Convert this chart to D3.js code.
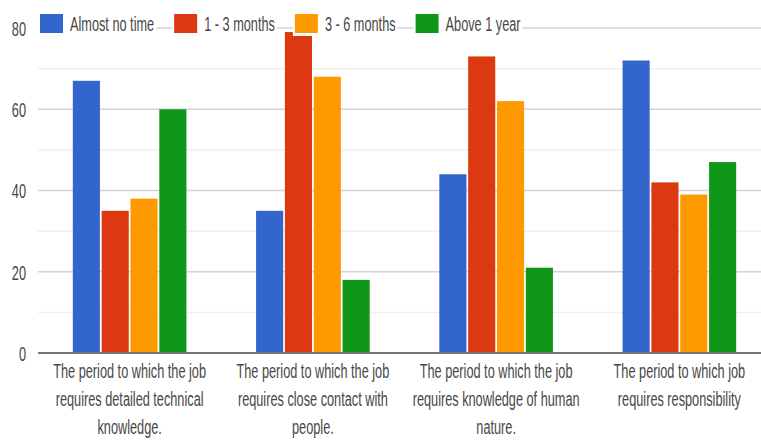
<!DOCTYPE html>
<html>
<head>
<meta charset="utf-8">
<script src="https://cdn.jsdelivr.net/npm/d3@7"></script>
<style>
  html, body { margin: 0; padding: 0; background: #fff; }
  svg { display: block; }
  text { font-family: "Liberation Sans", Arial, sans-serif; fill: #474747; }
</style>
</head>
<body>
<svg id="chart" width="761" height="442"></svg>
<script>
// Category labels, one entry per group, already broken into lines
const categories = [
  ["The period to which the job", "requires detailed technical", "knowledge."],
  ["The period to which the job", "requires close contact with", "people."],
  ["The period to which the job", "requires knowledge of human", "nature."],
  ["The period to which job", "requires responsibility"]
];
const seriesNames = ["Almost no time", "1 - 3 months", "3 - 6 months", "Above 1 year"];
const seriesColors = ["#3366cc", "#dc3912", "#ff9900", "#109618"];

// Values per series, in category order
const almostNoTime = [67, 35, 44, 72];
const oneToThree   = [35, 79, 73, 42];
const threeToSix   = [38, 68, 62, 39];
const aboveOneYear = [60, 18, 21, 47];
const seriesValues = [almostNoTime, oneToThree, threeToSix, aboveOneYear];

const majorTicks = [0, 20, 40, 60, 80];
const minorTicks = [10, 30, 50, 70];

const W = 761, H = 442;
const plotLeft = 38, plotRight = 771, plotTop = 28, plotBottom = 353;
// Text is drawn tall and horizontally condensed
const FONT = 21, SX = 0.606;

const svg = d3.select("#chart");

const y = d3.scaleLinear().domain([0, 80]).range([plotBottom, plotTop]);
const x0 = d3.scaleBand().domain(d3.range(categories.length))
  .range([plotLeft, plotRight]).paddingInner(0.38).paddingOuter(0.19);
const x1 = d3.scaleBand().domain(d3.range(seriesNames.length))
  .range([0, x0.bandwidth()]).paddingInner(0.06);

// Gridlines
svg.append("g").selectAll("line").data(minorTicks).join("line")
  .attr("x1", plotLeft).attr("x2", W)
  .attr("y1", d => y(d)).attr("y2", d => y(d))
  .attr("stroke", "#efefef").attr("stroke-width", 1.5);
svg.append("g").selectAll("line").data(majorTicks.filter(d => d > 0)).join("line")
  .attr("x1", plotLeft).attr("x2", W)
  .attr("y1", d => y(d)).attr("y2", d => y(d))
  .attr("stroke", "#d4d4d4").attr("stroke-width", 1.5);

// Y tick labels
const yAxis = d3.axisLeft(y).tickValues(majorTicks).tickSize(0).tickPadding(0);
const yg = svg.append("g").attr("transform", "translate(26,0)").call(yAxis);
yg.select(".domain").remove();
yg.selectAll(".tick text")
  .attr("x", 0).attr("dy", "0.35em")
  .attr("transform", `scale(${SX},1)`)
  .style("font-size", FONT + "px")
  .attr("fill", "#555")
  .attr("font-family", "Liberation Sans, Arial, sans-serif");

// Bars
const groups = svg.append("g").selectAll("g").data(categories).join("g")
  .attr("transform", (d, i) => `translate(${x0(i)},0)`);
groups.selectAll("rect")
  .data((d, i) => seriesValues.map((vals, s) => ({ s, v: vals[i] })))
  .join("rect")
  .attr("x", d => x1(d.s))
  .attr("width", x1.bandwidth())
  .attr("y", d => y(d.v))
  .attr("height", d => y(0) - y(d.v))
  .attr("fill", d => seriesColors[d.s]);

// Baseline
svg.append("line")
  .attr("x1", plotLeft).attr("x2", W)
  .attr("y1", y(0)).attr("y2", y(0))
  .attr("stroke", "#777").attr("stroke-width", 2);

// Category labels
const lineY = [378, 406, 434];
groups.each(function (lines) {
  const g = d3.select(this);
  lines.forEach((ln, k) => {
    g.append("text")
      .attr("transform", `translate(${x0.bandwidth() / 2},${lineY[k]}) scale(${SX},1)`)
      .attr("text-anchor", "middle")
      .style("font-size", FONT + "px")
      .text(ln);
  });
});

// Legend along the top gridline
const legend = svg.append("g");
let lx = 40;
const legendY = 24;
seriesNames.forEach((name, i) => {
  const item = legend.append("g");
  const bg = item.append("rect").attr("fill", "#fff");
  item.append("rect")
    .attr("x", lx).attr("y", legendY - 10)
    .attr("width", 23).attr("height", 19)
    .attr("fill", seriesColors[i]);
  const t = item.append("text")
    .attr("transform", `translate(${lx + 30},${legendY}) scale(${SX},1)`)
    .attr("dy", "0.35em")
    .style("font-size", FONT + "px")
    .text(name);
  const tw = t.node().getComputedTextLength() * SX;
  bg.attr("x", lx - 2).attr("y", legendY - 12)
    .attr("width", 30 + tw + 4).attr("height", 24);
  lx += 30 + tw + 20;
});
</script>
</body>
</html>
